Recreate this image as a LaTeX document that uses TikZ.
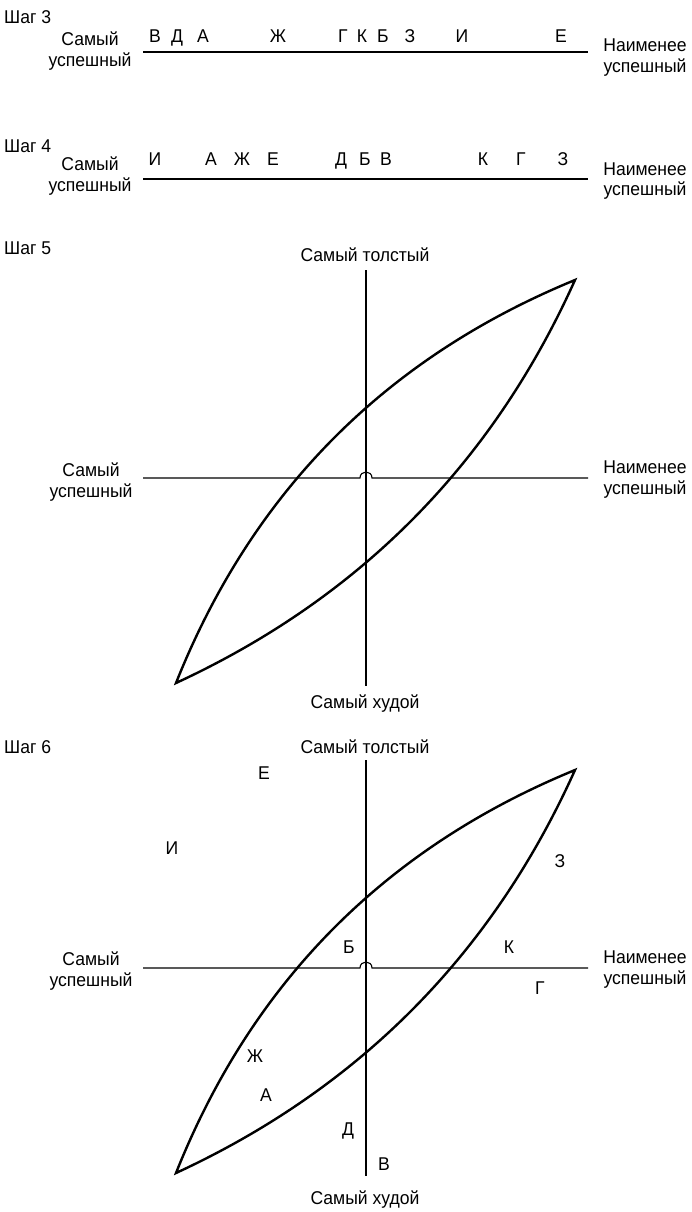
\documentclass[tikz,border=0pt]{standalone}
\usepackage{fontspec}
\setmainfont[FakeStretch=0.95]{Liberation Sans}
\begin{document}
\begin{tikzpicture}[x=1pt,y=-1pt,
  lbl/.style={font=\fontsize{18.5}{22}\selectfont, inner sep=0pt},
  ltr/.style={lbl, text height=13.2pt, text depth=0pt},
  axis/.style={line width=1.1pt},
  lens/.style={line width=2.4pt, line join=miter, miter limit=20}]
\useasboundingbox (0,0) rectangle (691,1212);

% ---------- Step 3 ----------
\node[lbl,anchor=west] (s3) at (4,17) {Шаг 3};
\node[lbl,anchor=base] (s3l1) at (90,46) {Самый};
\node[lbl,anchor=base] (s3l2) at (90,67) {успешный};
\node[lbl,anchor=base] (s3r1) at (645,52) {Наименее};
\node[lbl,anchor=base] (s3r2) at (645,73) {успешный};
\coordinate (s3a) at (143,52);
\coordinate (s3b) at (588,52);
\draw[axis] (s3a) -- (s3b);
\foreach \n/\x/\t in {a/155/В,b/177/Д,c/203/А,d/278/Ж,e/343/Г,f/362/К,g/383/Б,h/410/З,i/462/И,j/561/Е}
  \node[ltr] (s3\n) at (\x,36) {\t};

% ---------- Step 4 ----------
\node[lbl,anchor=west] (s4) at (4,146) {Шаг 4};
\node[lbl,anchor=base] (s4l1) at (90,170) {Самый};
\node[lbl,anchor=base] (s4l2) at (90,191) {успешный};
\node[lbl,anchor=base] (s4r1) at (645,175) {Наименее};
\node[lbl,anchor=base] (s4r2) at (645,195) {успешный};
\coordinate (s4a) at (143,179);
\coordinate (s4b) at (588,179);
\draw[axis] (s4a) -- (s4b);
\foreach \n/\x/\t in {a/155/И,b/211/А,c/242/Ж,d/273/Е,e/341/Д,f/365/Б,g/386/В,h/483/К,i/521/Г,j/563/З}
  \node[ltr] (s4\n) at (\x,159) {\t};

% ---------- Step 5 ----------
\node[lbl,anchor=west] (s5) at (4,248) {Шаг 5};
\node[lbl,anchor=base] (s5top) at (365,261) {Самый толстый};
\node[lbl,anchor=base] (s5bot) at (365,708) {Самый худой};
\node[lbl,anchor=base] (s5l1) at (91,476) {Самый};
\node[lbl,anchor=base] (s5l2) at (91,497) {успешный};
\node[lbl,anchor=base] (s5r1) at (645,473) {Наименее};
\node[lbl,anchor=base] (s5r2) at (645,494) {успешный};
\coordinate (s5vt) at (366,270);
\coordinate (s5vb) at (366,686);
\coordinate (s5hl) at (143,478);
\coordinate (s5hr) at (588,478);
\coordinate (s5h1) at (360,478);
\coordinate (s5h2) at (372,478);
\draw[axis] (s5vt) -- (s5vb);
\draw[axis] (s5hl) -- (s5h1) .. controls (360,470) and (372,470) .. (s5h2) -- (s5hr);
\coordinate (s5p) at (176,683);
\coordinate (s5q) at (575,280);
\draw[lens] (s5p) .. controls (252,492.3) and (385,358) .. (s5q)
  .. controls (492.3,464) and (359.3,598.3) .. cycle;

% ---------- Step 6 ----------
\node[lbl,anchor=west] (s6) at (4,747) {Шаг 6};
\node[lbl,anchor=base] (s6top) at (365,753) {Самый толстый};
\node[lbl,anchor=base] (s6bot) at (365,1204) {Самый худой};
\node[lbl,anchor=base] (s6l1) at (91,965) {Самый};
\node[lbl,anchor=base] (s6l2) at (91,986) {успешный};
\node[lbl,anchor=base] (s6r1) at (645,963) {Наименее};
\node[lbl,anchor=base] (s6r2) at (645,984) {успешный};
\coordinate (s6vt) at (366,760);
\coordinate (s6vb) at (366,1176);
\coordinate (s6hl) at (143,968);
\coordinate (s6hr) at (588,968);
\coordinate (s6h1) at (360,968);
\coordinate (s6h2) at (372,968);
\draw[axis] (s6vt) -- (s6vb);
\draw[axis] (s6hl) -- (s6h1) .. controls (360,960) and (372,960) .. (s6h2) -- (s6hr);
\coordinate (s6p) at (176,1173);
\coordinate (s6q) at (575,770);
\draw[lens] (s6p) .. controls (252,982.3) and (385,848) .. (s6q)
  .. controls (492.3,954) and (359.3,1088.3) .. cycle;
\foreach \n/\x/\y/\t in {a/264/773/Е,b/172/848/И,c/560/861/З,d/349/947/Б,e/509/947/К,f/540/988/Г,g/255/1056/Ж,h/266/1095/А,i/348/1129/Д,j/384/1164/В}
  \node[ltr] (s6\n) at (\x,\y) {\t};
\end{tikzpicture}
\end{document}
